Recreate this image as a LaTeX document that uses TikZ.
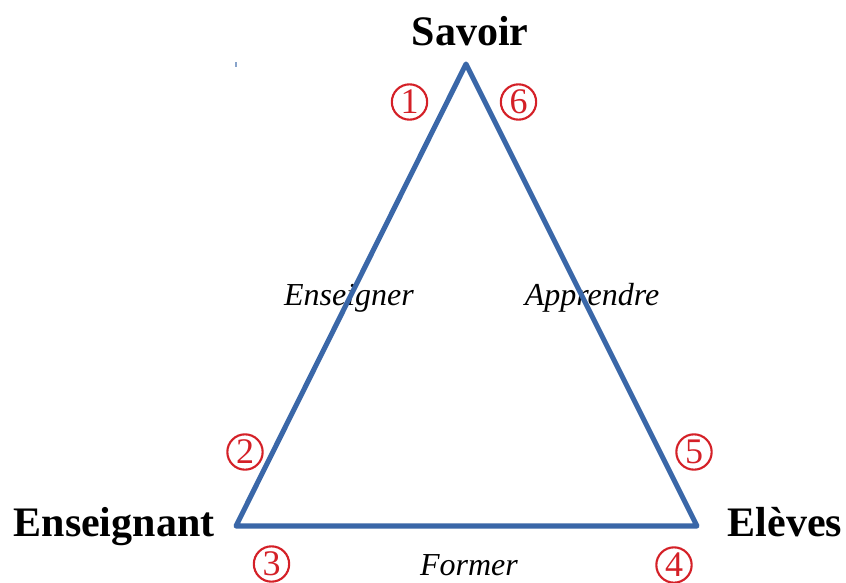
\documentclass[tikz,border=0pt]{standalone}
\usepackage{fontspec}
\setmainfont{Liberation Serif}
\usetikzlibrary{calc}
\definecolor{edgeblue}{HTML}{3A67A8}
\definecolor{markred}{HTML}{D42027}
\definecolor{ink}{HTML}{000000}

\begin{document}
\begin{tikzpicture}[
  x=0.75pt,y=-0.75pt,text=ink,
  line cap=round,line join=round,
  side/.style={draw=edgeblue,line width=3.8pt},
  pole/.style={font=\fontsize{31.5}{34}\selectfont\bfseries,inner sep=0pt,anchor=base},
  verb/.style={font=\fontsize{24}{27}\selectfont\itshape,inner sep=0pt,anchor=base},
  num/.style={circle,draw=markred,line width=1.6pt,minimum size=26.5pt,
    inner sep=0pt,font=\fontsize{27}{28}\selectfont,text=markred}
]
\useasboundingbox (0,0) rectangle (846,582);

% Corners of the didactic triangle.
\coordinate (sv) at (466,64);
\coordinate (en) at (236,526);
\coordinate (el) at (697,526);

% Poles.
\node[pole] (savoir) at (470,45) {Savoir};
\node[pole] (enseignant) at (114,536) {Enseignant};
\node[pole] (eleves) at (785,536) {Elèves};

% Processes on each side, under the lines.
\node[verb] (enseigner) at (349,305) {Enseigner};
\node[verb] (apprendre) at (592,305) {Apprendre};
\node[verb] (former) at (469,575) {Former};

\draw[side] (sv) -- (en) -- (el) -- cycle;

% Numbered ends of the sides.
\node[num] (n1) at (409.5,102) {1};
\node[num] (n6) at (518.5,102) {6};
\node[num] (n2) at (245,452) {2};
\node[num] (n5) at (694,452) {5};
\node[num] (n3) at (271.5,564) {3};
\node[num] (n4) at (674,565) {4};

% Stray tick left of the apex.
\coordinate (tk) at (236,62);
\draw[edgeblue!60,line width=1.2pt,line cap=butt] (tk) -- ++(0,5);
\end{tikzpicture}
\end{document}
